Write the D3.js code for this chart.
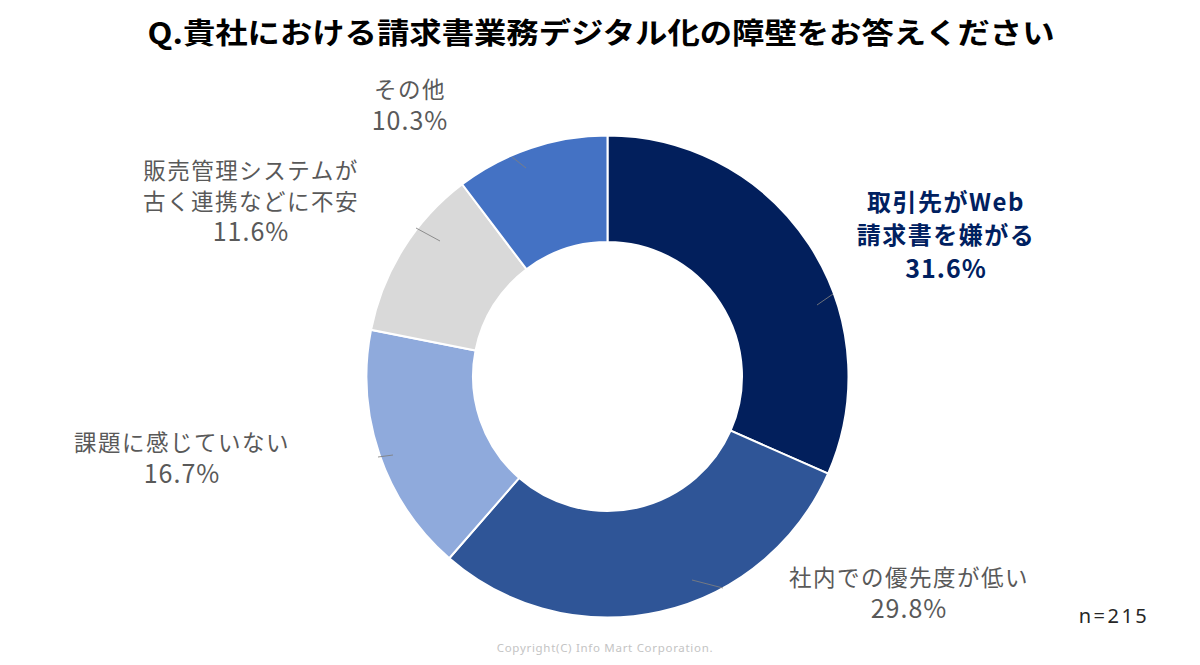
<!DOCTYPE html>
<html><head><meta charset="utf-8">
<script src="https://cdn.jsdelivr.net/npm/d3@7"></script>
<style>html,body{margin:0;padding:0;background:#fff;}svg{display:block;}</style>
</head><body>
<svg id="c" width="1200" height="665"></svg>
<script>
// ---- data ----
const categories = ["取引先がWeb請求書を嫌がる", "社内での優先度が低い", "課題に感じていない", "販売管理システムが古く連携などに不安", "その他"];
const labelLines = [["取引先がWeb", "請求書を嫌がる"], ["社内での優先度が低い"], ["課題に感じていない"], ["販売管理システムが", "古く連携などに不安"], ["その他"]];
const values = [31.6, 29.8, 16.7, 11.6, 10.3];
const titleText = "Q.貴社における請求書業務デジタル化の障壁をお答えください";
const sampleText = "n=215";
const copyrightText = "Copyright(C) Info Mart Corporation.";

// ---- layout / style ----
const colors = ["#021F5C", "#2F5597", "#8FAADC", "#D9D9D9", "#4472C4"];
const labelColors = ["#002060", "#595959", "#595959", "#595959", "#595959"];
const labelWeights = ["bold", "normal", "normal", "normal", "normal"];
const labelSizes = [24, 22.5, 22.5, 22.5, 22.5];
const pctSizes = [25, 25, 25, 25, 25];
const lineGaps = [33.5, 31, 31, 30.5, 31];
const labelPos = [[946, 202], [909, 578], [182, 443], [251, 171], [410, 90]]; // first line centre
// leader: outer end angle target point and inner end point (as polar toward label side)
const leaderOuter = [[833, 294], [723, 588], [378, 457], [416, 228], [512, 157]];
const leaderInner = [[817, 305], [692, 580], [393, 455], [440, 241], [526, 168]];
const cx = 607.5, cy = 376.5, R = 241, r0 = 134.5;
const font = "'Noto Sans CJK JP', 'Noto Sans', sans-serif";

const svg = d3.select("#c");

// title
svg.append("text").attr("x", 601).attr("y", 44).attr("text-anchor", "middle")
  .attr("font-family", font).attr("font-weight", "bold").attr("font-size", 29)
  .attr("fill", "#000").attr("textLength", 907).attr("lengthAdjust", "spacingAndGlyphs")
  .text(titleText);

const pie = d3.pie().sort(null).value(d => d).startAngle(0).endAngle(2 * Math.PI);
const arcs = pie(values);
const arc = d3.arc().innerRadius(r0).outerRadius(R);

const g = svg.append("g").attr("transform", `translate(${cx},${cy})`);
g.selectAll("path").data(arcs).join("path")
  .attr("d", arc).attr("fill", (d, i) => colors[i])
  .attr("stroke", "#fff").attr("stroke-width", 2);

// leader lines (short grey segments near the outer edge, pointing to the labels)
const line = d3.line();
leaderOuter.forEach((p, i) => {
  const q = leaderInner[i];
  svg.append("path").attr("d", line([q, p]))
    .attr("stroke", "#7f7f7f").attr("stroke-width", 1).attr("fill", "none").attr("opacity", 0.85);
});

// labels
arcs.forEach((d, i) => {
  const [lx, ly] = labelPos[i];
  const txt = svg.append("text").attr("text-anchor", "middle")
    .attr("font-family", font)
    .attr("font-weight", labelWeights[i]).attr("fill", labelColors[i]);
  const lines = labelLines[i];
  lines.forEach((s, k) => {
    txt.append("tspan").attr("x", lx).attr("y", ly + k * lineGaps[i] + 0.36 * labelSizes[i])
      .attr("font-size", labelSizes[i]).attr("letter-spacing", 1.5).text(s);
  });
  txt.append("tspan").attr("x", lx).attr("y", ly + lines.length * lineGaps[i] + 0.36 * pctSizes[i])
    .attr("font-size", pctSizes[i]).attr("letter-spacing", 1)
    .text(d3.format(".1f")(values[i]) + "%");
});

// n=215
svg.append("text").attr("x", 1114).attr("y", 623).attr("text-anchor", "middle")
  .attr("font-family", "'Noto Sans', sans-serif").attr("font-size", 20).attr("letter-spacing", 2.5)
  .attr("fill", "#262626").text(sampleText);

// copyright
svg.append("text").attr("x", 605).attr("y", 652).attr("text-anchor", "middle")
  .attr("font-family", "'Noto Sans', sans-serif").attr("font-size", 11.5).attr("letter-spacing", 0.7)
  .attr("fill", "#c4c4c4").text(copyrightText);
</script>
</body></html>
